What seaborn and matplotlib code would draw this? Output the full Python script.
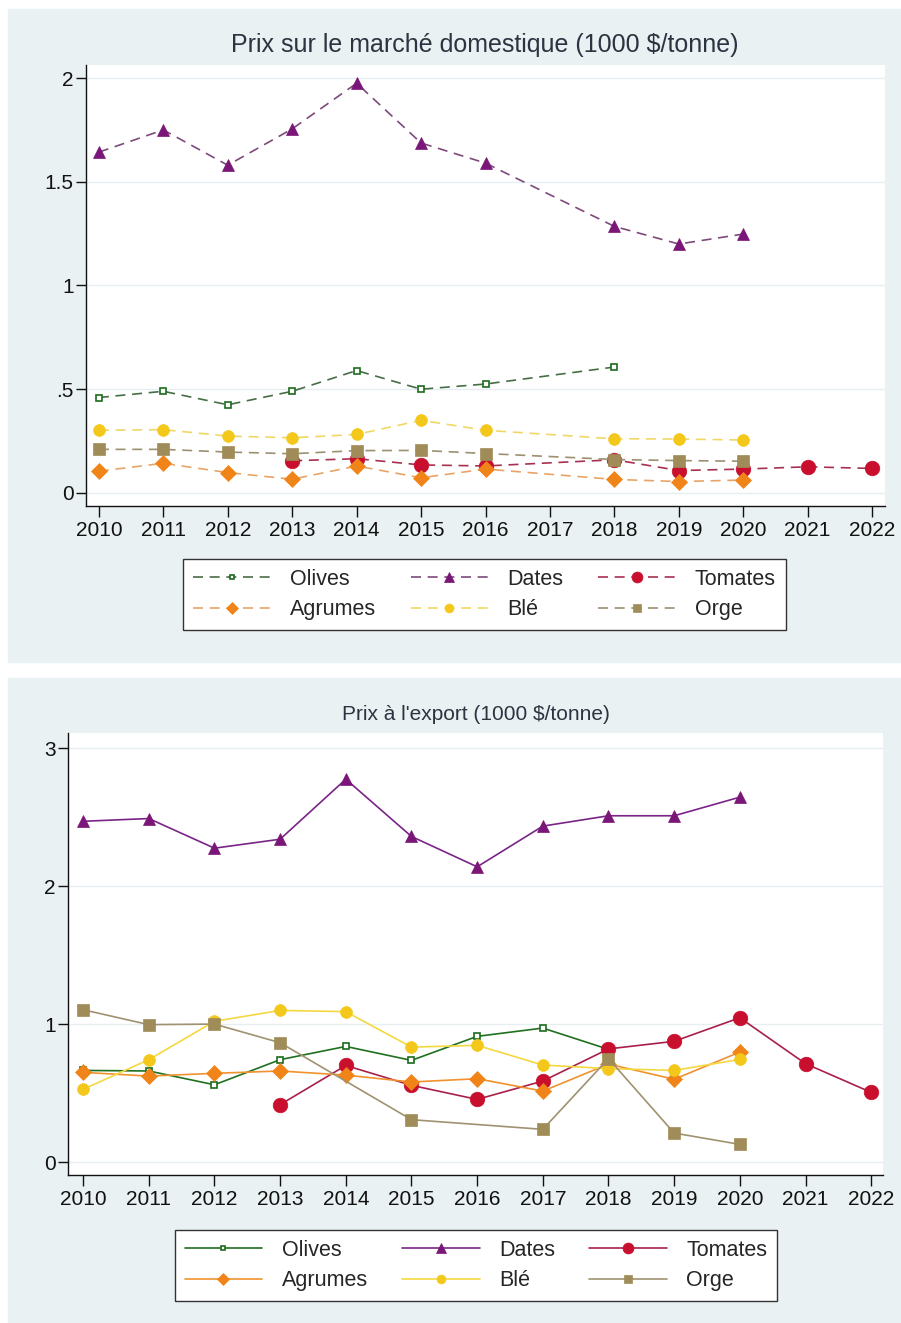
import numpy as np
import pandas as pd
import matplotlib
matplotlib.use("Agg")
import matplotlib.pyplot as plt
from matplotlib.patches import Rectangle
import seaborn as sns

sns.set_theme(style="white")
plt.rcParams['font.family'] = ['Liberation Sans', 'DejaVu Sans']

years = list(range(2010, 2023))
series_names = ["Olives", "Dates", "Tomates", "Agrumes", "Blé", "Orge"]
nan = np.nan

# Domestic market prices (1000 $/tonne), 2010..2022
dom_olives  = [0.46, 0.49, 0.425, 0.49, 0.59, 0.50, 0.525, nan, 0.607, nan, nan, nan, nan]
dom_dates   = [1.643, 1.75, 1.58, 1.755, 1.975, 1.687, 1.59, nan, 1.285, 1.20, 1.248, nan, nan]
dom_tomates = [nan, nan, nan, 0.155, 0.165, 0.135, 0.13, nan, 0.16, 0.108, 0.115, 0.126, 0.118]
dom_agrumes = [0.105, 0.143, 0.098, 0.066, 0.13, 0.073, 0.115, nan, 0.065, 0.055, 0.062, nan, nan]
dom_ble     = [0.302, 0.305, 0.274, 0.266, 0.282, 0.35, 0.302, nan, 0.261, 0.26, 0.255, nan, nan]
dom_orge    = [0.21, 0.21, 0.197, 0.189, 0.204, 0.205, 0.19, nan, 0.161, 0.156, 0.153, nan, nan]

# Export prices (1000 $/tonne), 2010..2022
exp_olives  = [0.664, 0.66, 0.56, 0.742, 0.838, 0.737, 0.911, 0.971, 0.817, nan, nan, nan, nan]
exp_dates   = [2.47, 2.49, 2.275, 2.34, 2.775, 2.36, 2.14, 2.435, 2.51, 2.51, 2.645, nan, nan]
exp_tomates = [nan, nan, nan, 0.416, 0.70, 0.556, 0.454, 0.587, 0.82, 0.875, 1.046, 0.713, 0.505]
exp_agrumes = [0.65, 0.623, 0.643, 0.66, 0.63, 0.58, 0.604, 0.514, 0.71, 0.60, 0.797, nan, nan]
exp_ble     = [0.527, 0.742, 1.02, 1.099, 1.09, 0.833, 0.846, 0.703, 0.677, 0.664, 0.744, nan, nan]
exp_orge    = [1.104, 0.996, 1.0, 0.865, nan, 0.307, nan, 0.237, 0.75, 0.21, 0.128, nan, nan]

dom_values = [dom_olives, dom_dates, dom_tomates, dom_agrumes, dom_ble, dom_orge]
exp_values = [exp_olives, exp_dates, exp_tomates, exp_agrumes, exp_ble, exp_orge]

titles = ["Prix sur le marché domestique (1000 $/tonne)", "Prix à l'export (1000 $/tonne)"]
dom_yticks = [0, 0.5, 1, 1.5, 2]
dom_yticklabels = ["0", ".5", "1", "1.5", "2"]
exp_yticks = [0, 1, 2, 3]
exp_yticklabels = ["0", "1", "2", "3"]


def long_df(values):
    rows = []
    for name, vals in zip(series_names, values):
        for y, v in zip(years, vals):
            if not np.isnan(v):
                rows.append({"year": y, "price": v, "series": name})
    return pd.DataFrame(rows)


dom_df = long_df(dom_values)
exp_df = long_df(exp_values)

# style per series
marker_colors = {"Olives": "#1B6B1B", "Dates": "#7A1677", "Tomates": "#C8102E",
                 "Agrumes": "#F08418", "Blé": "#F4C81A", "Orge": "#A08C58"}
dash_line_colors = {"Olives": "#466E46", "Dates": "#7D4A7B", "Tomates": "#A83050",
                    "Agrumes": "#E8A466", "Blé": "#F0D866", "Orge": "#9C9070"}
solid_line_colors = {"Olives": "#1F701F", "Dates": "#7A2488", "Tomates": "#A8204A",
                     "Agrumes": "#F0922E", "Blé": "#F5D840", "Orge": "#A09270"}
markers = {"Olives": "s", "Dates": "^", "Tomates": "o", "Agrumes": "D", "Blé": "o", "Orge": "s"}
msizes = {"Olives": 4.5, "Dates": 9, "Tomates": 10.5, "Agrumes": 8, "Blé": 8.5, "Orge": 8}

W, H = 901, 1323
fig = plt.figure(figsize=(W / 100, H / 100), dpi=100)
fig.patch.set_facecolor("white")
bg = "#EAF1F3"
fig.patches.append(Rectangle((8 / W, 1 - 662 / H), (W - 8) / W, (662 - 9) / H,
                             transform=fig.transFigure, color=bg, zorder=-10))
fig.patches.append(Rectangle((8 / W, 0), (W - 8) / W, (H - 678) / H,
                             transform=fig.transFigure, color=bg, zorder=-10))


def px_axes(left, right, top, bottom):
    a = fig.add_axes([left / W, 1 - bottom / H, (right - left) / W, (bottom - top) / H])
    a.set_zorder(1)
    return a


ax1 = px_axes(86, 885, 65, 506)
ax2 = px_axes(68, 883, 733, 1175)

panels = [
    (ax1, dom_df, dash_line_colors, (0, (6, 4)), dom_yticks, dom_yticklabels,
     (2009.8, 2022.2), (-0.063, 2.063)),
    (ax2, exp_df, solid_line_colors, "-", exp_yticks, exp_yticklabels,
     (2009.77, 2022.18), (-0.094, 3.11)),
]

legend_handles = []
for ax, df, lcolors, ls, yt, ytl, xl, yl in panels:
    ax.set_facecolor("white")
    handles = {}
    for name in series_names:
        sub = df[df["series"] == name]
        mfc = "white" if name == "Olives" else marker_colors[name]
        sns.lineplot(data=sub, x="year", y="price", ax=ax, color=lcolors[name],
                     linestyle=ls, linewidth=1.2, marker=markers[name],
                     markersize=msizes[name], markerfacecolor=mfc,
                     markeredgecolor=marker_colors[name],
                     markeredgewidth=1.2 if name == "Olives" else 0.5,
                     errorbar=None, label=name, zorder=3)
        handles[name] = ax.get_lines()[-1]
    if ax.get_legend() is not None:
        ax.get_legend().remove()
    legend_handles.append(handles)
    ax.set_xlim(*xl)
    ax.set_ylim(*yl)
    ax.set_xticks(years)
    ax.set_xticklabels([str(y) for y in years], fontsize=15)
    ax.set_yticks(yt)
    ax.set_yticklabels(ytl, fontsize=15)
    ax.set_xlabel("")
    ax.set_ylabel("")
    for y in yt:
        ax.axhline(y, color="#E6EEF0", lw=1.0, zorder=1)
    for s in ["top", "right"]:
        ax.spines[s].set_visible(False)
    for s in ["left", "bottom"]:
        ax.spines[s].set_color("#111111")
        ax.spines[s].set_linewidth(1.0)
    ax.tick_params(axis="x", direction="out", length=8, width=1, color="#111111",
                   pad=3, labelcolor="#111111", bottom=True)
    ax.tick_params(axis="y", direction="out", length=7, width=1, color="#111111",
                   pad=2, labelcolor="#111111", left=True)
    ax.grid(False)

fig.text(485 / W, 1 - 45 / H, titles[0], ha="center", va="center", fontsize=18,
         color="#2B3440")
fig.text(476 / W, 1 - 714 / H, titles[1], ha="center", va="center", fontsize=15,
         color="#2B3440")

order = ["Olives", "Agrumes", "Dates", "Blé", "Tomates", "Orge"]
legend_pos = [(484.5, 594.5), (476, 1265.5)]
for handles, (cx, cy) in zip(legend_handles, legend_pos):
    leg = fig.legend([handles[n] for n in order], order, ncol=3, loc="center",
                     bbox_to_anchor=(cx / W, 1 - cy / H), frameon=True, fancybox=False,
                     fontsize=15.5, handlelength=3.6, handletextpad=0.9,
                     columnspacing=1.6, borderpad=0.45, labelspacing=0.45,
                     numpoints=1, markerscale=0.75)
    leg.set_zorder(5)
    fr = leg.get_frame()
    fr.set_edgecolor("#333333")
    fr.set_linewidth(1.0)
    fr.set_facecolor("white")
    fr.set_alpha(1)

fig.savefig("out.png", dpi=100)
